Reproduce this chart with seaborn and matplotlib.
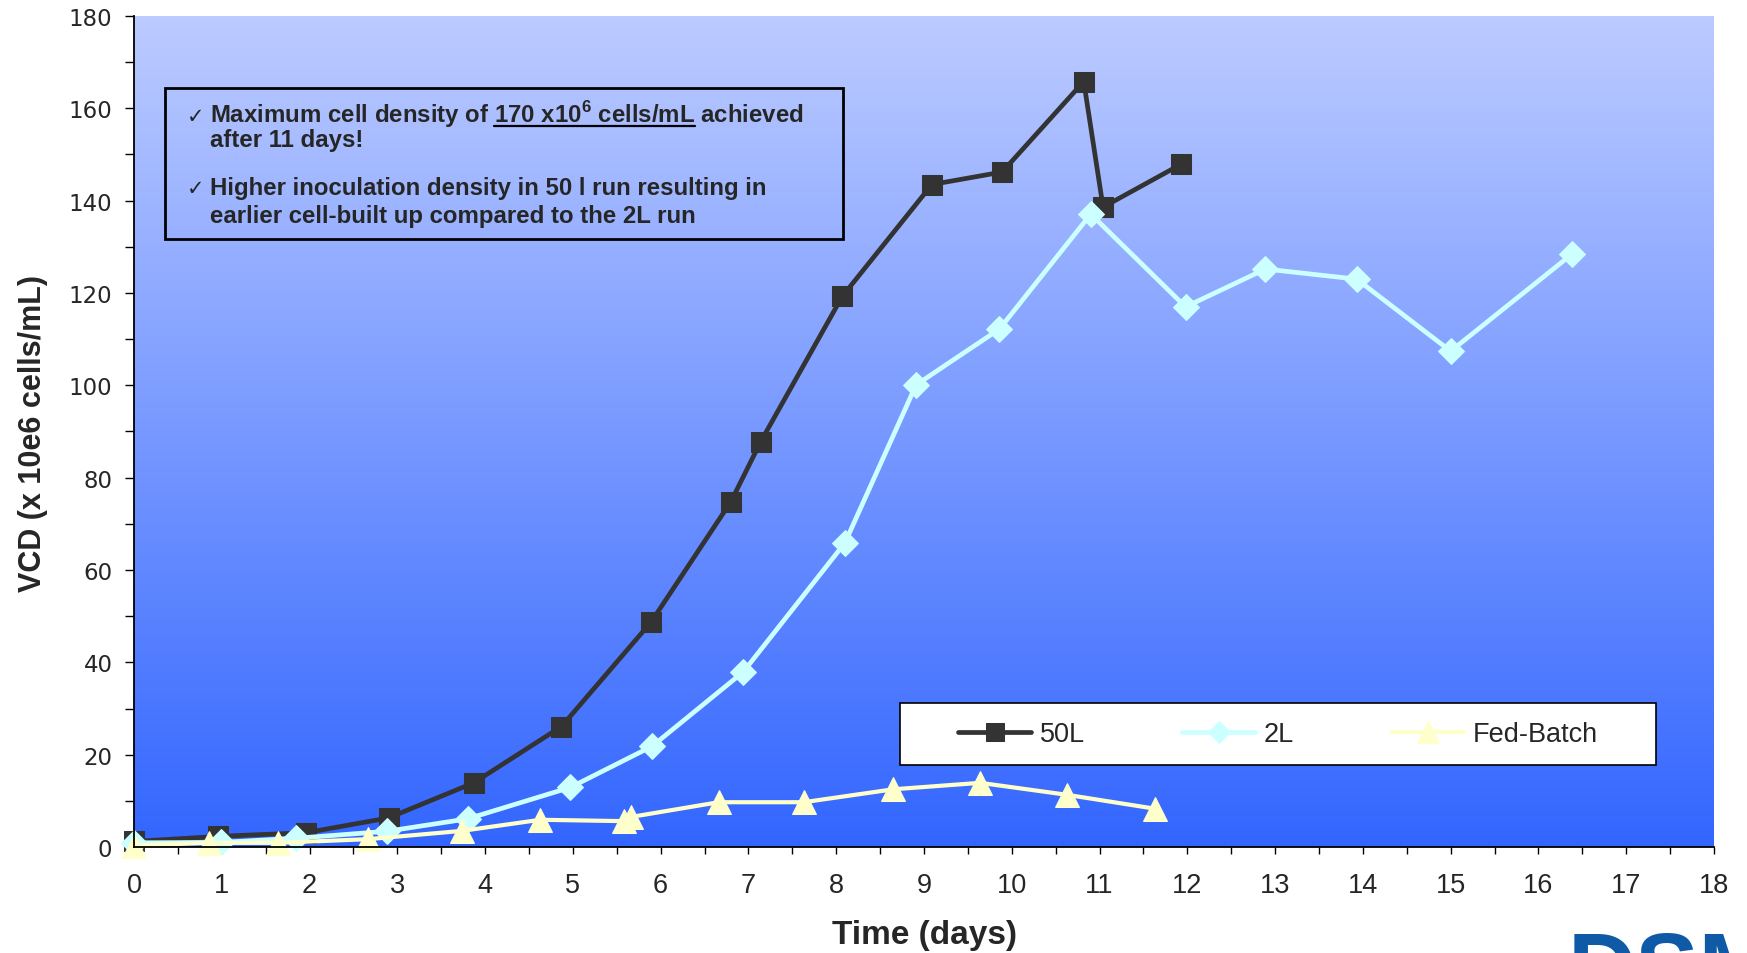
import numpy as np
import matplotlib
matplotlib.use("Agg")
import matplotlib.pyplot as plt
import seaborn as sns
from matplotlib.ticker import MultipleLocator
from matplotlib.patches import Rectangle
from matplotlib.colors import LinearSegmentedColormap

# data
days_50l = [0, 0.96, 1.96, 2.9, 3.87, 4.87, 5.89, 6.8, 7.14, 8.07, 9.09, 9.89, 10.82, 11.04, 11.93]
vcd_50l = [1.2, 2.3, 3.1, 6.3, 13.9, 26.1, 48.7, 74.8, 87.8, 119.3, 143.5, 146.2, 165.8, 138.6, 147.9]

days_2l = [0, 0.99, 1.85, 2.88, 3.8, 4.97, 5.9, 6.94, 8.1, 8.91, 9.86, 10.9, 11.98, 12.89, 13.93, 15.0, 16.38]
vcd_2l = [0.9, 1.0, 1.9, 3.4, 6.1, 12.9, 21.8, 37.9, 65.9, 100.1, 112.2, 137.1, 117.0, 125.2, 123.0, 107.4, 128.4]

days_fb = [0, 0.85, 1.64, 2.67, 3.74, 4.63, 5.58, 5.66, 6.66, 7.63, 8.65, 9.64, 10.63, 11.63]
vcd_fb = [0.3, 0.9, 0.9, 1.7, 3.5, 5.9, 5.6, 6.5, 9.7, 9.7, 12.5, 13.9, 11.3, 8.3]

series_names = ["50L", "2L", "Fed-Batch"]
note_lines = [
    ("Maximum cell density of ", "170 x10$^{\\mathbf{6}}$ cells/mL", " achieved"),
    "after 11 days!",
    "Higher inoculation density in 50 l run resulting in",
    "earlier cell-built up compared to the 2L run",
]

sns.set_style("white")
plt.rcParams['font.family'] = ['Liberation Sans', 'DejaVu Sans']
plt.rcParams['mathtext.fontset'] = 'custom'
plt.rcParams['mathtext.rm'] = 'Liberation Sans'
plt.rcParams['mathtext.bf'] = 'Liberation Sans:bold'

W, H = 1747, 954
fig = plt.figure(figsize=(W / 100, H / 100), dpi=100)
rect = [134 / W, 1 - 848 / H, 1580 / W, 831 / H]

# gradient plot area
bg = fig.add_axes(rect, zorder=0)
cmap = LinearSegmentedColormap.from_list("bg", ["#3366ff", "#bccbff"])
bg.imshow(np.linspace(0, 1, 256).reshape(-1, 1), cmap=cmap, aspect="auto",
          origin="lower", extent=[0, 1, 0, 1])
bg.axis("off")

ax = fig.add_axes(rect, zorder=1)
ax.patch.set_alpha(0)

sns.lineplot(x=days_50l, y=vcd_50l, ax=ax, color="#333333", marker="s", markersize=15,
             markeredgecolor="#333333", linewidth=3.4, label=series_names[0],
             sort=False, estimator=None, clip_on=False)
sns.lineplot(x=days_2l, y=vcd_2l, ax=ax, color="#ccffff", marker="D", markersize=13,
             markeredgecolor="#ccffff", linewidth=3.4, label=series_names[1],
             sort=False, estimator=None, clip_on=False)
sns.lineplot(x=days_fb, y=vcd_fb, ax=ax, color="#ffffcc", marker="^", markersize=17,
             markeredgecolor="#ffffcc", linewidth=3.0, label=series_names[2],
             sort=False, estimator=None, clip_on=False)

ax.set_xlim(0, 18)
ax.set_ylim(0, 180)
ax.xaxis.set_major_locator(MultipleLocator(1))
ax.xaxis.set_minor_locator(MultipleLocator(0.5))
ax.yaxis.set_major_locator(MultipleLocator(20))
ax.yaxis.set_minor_locator(MultipleLocator(10))
ax.tick_params(axis="x", which="both", direction="out", length=5, width=1, color="black",
               bottom=True, pad=13, labelsize=19.5)
ax.tick_params(axis="y", which="both", direction="out", length=6.5, width=1, color="black",
               left=True, pad=9)
for lab in ax.get_yticklabels():
    lab.set_fontfamily("DejaVu Sans")
    lab.set_fontsize(16.5)
for s in ["top", "right"]:
    ax.spines[s].set_visible(False)
for s in ["left", "bottom"]:
    ax.spines[s].set_color("black")
    ax.spines[s].set_linewidth(1.3)
ax.set_xlabel("")
ax.set_ylabel("")

fig.text(925 / W, 1 - 936 / H, "Time (days)", ha="center", va="center",
         fontsize=24, fontweight="bold")
fig.text(33 / W, 1 - 434 / H, "VCD (x 10e6 cells/mL)", ha="center", va="center",
         rotation=90, fontsize=22, fontweight="bold")

# legend: white box with the entries centred in it
leg_box = (0.485, 0.0987, 0.478, 0.0746)
ax.add_patch(Rectangle(leg_box[:2], leg_box[2], leg_box[3], transform=ax.transAxes,
                       facecolor="white", edgecolor="black", linewidth=1.2, zorder=4))
leg = ax.legend(loc="center", bbox_to_anchor=(leg_box[0] + leg_box[2] / 2,
                                              leg_box[1] + leg_box[3] / 2),
                ncol=3, fontsize=19.5, frameon=False, handlelength=2.7,
                handletextpad=0.3, columnspacing=3.6, markerscale=0.9, borderpad=0,
                borderaxespad=0)
leg.set_zorder(5)

# note box
ax.add_patch(Rectangle((0.0196, 0.732), 0.4294, 0.181, transform=ax.transAxes,
                       fill=False, edgecolor="black", linewidth=2, zorder=5))
note_kw = dict(transform=ax.transAxes, fontsize=17.3, fontweight="bold", va="baseline",
               ha="left", zorder=6)
tx0, tx1 = 0.0481, 0.0335
y_base = [0.8724, 0.8436, 0.7858, 0.7521]
full1 = "".join(note_lines[0])
ax.text(tx1, y_base[0], "\u2713", transform=ax.transAxes, fontsize=15,
        family="DejaVu Sans", va="baseline", ha="left", zorder=6)
ax.text(tx1, y_base[2], "\u2713", transform=ax.transAxes, fontsize=15,
        family="DejaVu Sans", va="baseline", ha="left", zorder=6)
ax.text(tx0, y_base[0], full1, **note_kw)
ax.text(tx0, y_base[1], note_lines[1], **note_kw)
ax.text(tx0, y_base[2], note_lines[2], **note_kw)
ax.text(tx0, y_base[3], note_lines[3], **note_kw)

# underline of the highlighted value
fig.canvas.draw()
renderer = fig.canvas.get_renderer()


def text_width(s):
    t = ax.text(0, 0, s, **note_kw)
    w = t.get_window_extent(renderer).width
    t.remove()
    return w / ax.bbox.width


end = text_width(note_lines[0][0] + note_lines[0][1])
start = end - text_width(note_lines[0][1])
uy = y_base[0] - 3.5 / 831
ax.plot([tx0 + start, tx0 + end], [uy, uy], transform=ax.transAxes, color="black",
        linewidth=1.6, zorder=6, clip_on=False)

# logo, cut off at the lower edge
fig.text(1568 / W, 1 - 930 / H, "DSM", ha="left", va="top", fontsize=68,
         fontweight="bold", color="#0e5aa7")

fig.savefig("out.png", dpi=100)
